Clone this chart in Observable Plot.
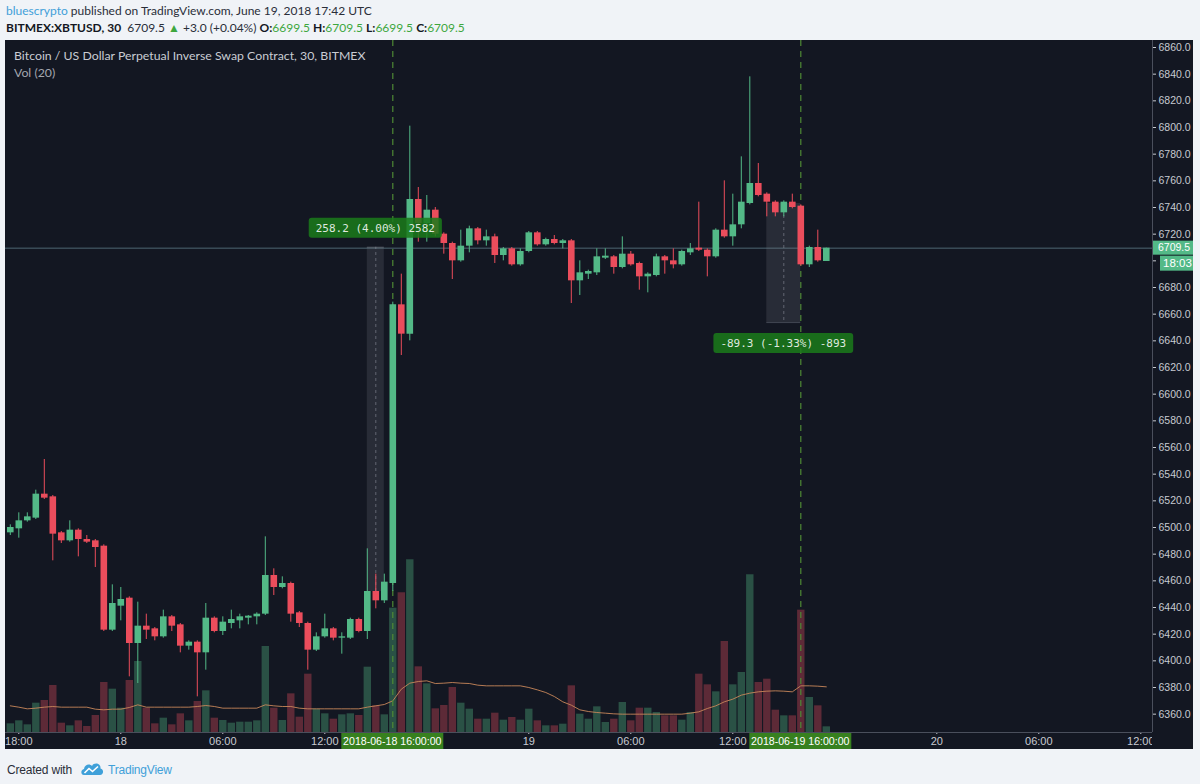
<!DOCTYPE html>
<html>
<head>
<meta charset="utf-8">
<script src="https://cdn.jsdelivr.net/npm/d3@7"></script>
<script src="https://cdn.jsdelivr.net/npm/@observablehq/plot@0.6"></script>
<style>
  html, body { margin: 0; padding: 0; }
  body { width: 1200px; height: 784px; overflow: hidden; position: relative; background: #f0f3f7; font-family: Lato, "Open Sans", sans-serif; }
  .hdr { position: absolute; left: 6px; font-size: 12px; color: #2a2e39; white-space: nowrap; }
  #h1 { top: 3px; }
  #h2 { top: 20px; }
  #h1 .user { color: #3fa0d9; }
  #h2 b { font-weight: 700; color: #131722; }
  #h2 .g { color: #3ea73e; }
  #panel { position: absolute; left: 5px; top: 40px; width: 1188px; height: 709px; background: #131722; overflow: hidden; }
  #panel > div.layer { position: absolute; left: 0; top: 0; }
  #ptitle { position: absolute; left: 9px; top: 8px; font-size: 12.3px; color: #c9ccd3; white-space: nowrap; }
  #pvol { position: absolute; left: 9px; top: 25px; font-size: 12.3px; color: #a3a6af; white-space: nowrap; }
  #foot { position: absolute; left: 7px; top: 760px; font-size: 12px; letter-spacing: -0.2px; color: #2a2e39; white-space: nowrap; font-family: "Liberation Sans Narrow", "Liberation Sans", sans-serif; }
  #foot .tv { color: #3fa0d9; }
  #foot svg { vertical-align: -4px; margin: 0 4px 0 8px; }
</style>
</head>
<body>
<div id="h1" class="hdr"><span class="user">bluescrypto</span> published on TradingView.com, June 19, 2018 17:42 UTC</div>
<div id="h2" class="hdr"><b>BITMEX:XBTUSD, 30</b>&nbsp; 6709.5 <span class="g">&#9650;</span> +3.0 (+0.04%) <b>O:</b><span class="g">6699.5</span> <b>H:</b><span class="g">6709.5</span> <b>L:</b><span class="g">6699.5</span> <b>C:</b><span class="g">6709.5</span></div>
<div id="panel">
  <div id="volLayer" class="layer"></div>
  <div id="priceLayer" class="layer"></div>
  <div id="ptitle">Bitcoin / US Dollar Perpetual Inverse Swap Contract, 30, BITMEX</div>
  <div id="pvol">Vol (20)</div>
</div>
<div id="foot">Created with<svg width="24" height="18" viewBox="0 0 24 18"><path d="M4 15 C0.5 15 0.5 9.5 4 9 C4.5 4.5 9.5 3 12 6 C14 2 21 3 20.5 8.5 C24 9 24 15 20 15 Z" fill="#3fa0d9"/><path d="M4.5 13 L9 8.5 L12.5 11.5 L18 6.5" stroke="#ffffff" stroke-width="1.6" fill="none"/></svg><span class="tv">TradingView</span></div>

<script>
// ---------- DATA (30-minute candles, BITMEX XBTUSD) ----------
const firstCandle = "2018-06-17T17:30:00Z";
const open = [
  6496, 6499, 6505, 6507, 6525, 6523, 6496, 6490, 6498, 6491,
  6490, 6486, 6423, 6441, 6447, 6413, 6426, 6424, 6418, 6433,
  6427, 6411, 6414, 6406, 6432, 6422, 6428, 6430, 6432, 6433,
  6435, 6464, 6455, 6458, 6436, 6428, 6408, 6418, 6424, 6417,
  6417, 6431, 6422, 6452, 6445, 6458, 6667, 6645, 6746, 6728,
  6738, 6720, 6713, 6700, 6711, 6724, 6715, 6718, 6704, 6709,
  6697, 6707, 6721, 6712, 6716, 6713, 6715, 6685, 6690, 6691,
  6702, 6703, 6695, 6705, 6698, 6688, 6689, 6703, 6700, 6697,
  6706, 6709.5, 6708, 6703, 6723, 6718, 6727, 6743, 6758, 6750,
  6744, 6736, 6744, 6741, 6697, 6710, 6699.5
];
const high = [
  6502, 6511, 6511, 6528, 6551, 6524, 6497, 6505, 6499, 6494,
  6491, 6487, 6457, 6455, 6448, 6444, 6435, 6425, 6438, 6434,
  6428, 6415, 6415, 6443, 6433, 6433, 6438, 6435, 6434, 6436,
  6493, 6469, 6463, 6459, 6437, 6429, 6421, 6435, 6425, 6421,
  6432, 6432, 6484, 6465, 6465, 6669, 6690, 6801, 6755, 6749,
  6740, 6721, 6714, 6723, 6726, 6725, 6723, 6720, 6710, 6710,
  6709, 6722, 6722, 6717, 6719, 6716, 6716, 6700, 6693, 6709,
  6709, 6704, 6718, 6707, 6699, 6691, 6705, 6704, 6709, 6708,
  6713, 6744, 6709, 6724, 6760, 6750, 6778, 6838, 6773, 6751,
  6745, 6745, 6750, 6742, 6711, 6723, 6709.5
];
const low = [
  6494, 6492, 6504, 6506, 6521, 6475, 6488, 6489, 6478, 6488,
  6470, 6422, 6422, 6430, 6388, 6383, 6416, 6415, 6417, 6422,
  6406, 6408, 6373, 6393, 6421, 6419, 6424, 6424, 6427, 6427,
  6434, 6449, 6454, 6429, 6425, 6393, 6407, 6417, 6415, 6405,
  6416, 6421, 6416, 6439, 6443, 6452, 6629, 6640, 6714, 6714,
  6718, 6705, 6686, 6699, 6706, 6712, 6711, 6698, 6700, 6696,
  6696, 6706, 6711, 6711, 6712, 6709, 6668, 6674, 6686, 6689,
  6701, 6690, 6694, 6696, 6678, 6676, 6688, 6690, 6694, 6696,
  6704, 6707, 6688, 6702, 6717, 6711, 6724, 6742, 6748, 6733,
  6733, 6733, 6739, 6696, 6695, 6699, 6699.5
];
const close = [
  6500, 6505, 6508, 6525, 6522, 6495, 6490, 6498, 6491, 6489,
  6485, 6423, 6443, 6446, 6413, 6426, 6423, 6418, 6433, 6426,
  6411, 6414, 6406, 6432, 6422, 6429, 6431, 6433, 6433.5, 6435,
  6464, 6455, 6458, 6435, 6428, 6408, 6418, 6424, 6417, 6418,
  6431, 6422, 6452, 6445, 6459, 6667, 6645, 6746, 6728, 6738,
  6720, 6713, 6700, 6711, 6724, 6715, 6718, 6704, 6709, 6697,
  6707, 6721, 6712, 6716, 6713, 6715, 6685, 6691, 6692, 6703,
  6703.5, 6695, 6705, 6697, 6688, 6690, 6703, 6700, 6697, 6707,
  6709, 6708, 6703, 6723, 6718, 6727, 6744, 6758, 6749, 6744,
  6736, 6744, 6740, 6697, 6710, 6700, 6709.5
];
// volume (relative units)
const volume = [
  26, 35, 23, 88, 96, 141, 28, 20, 35, 18,
  51, 150, 130, 73, 156, 213, 73, 26, 43, 23,
  56, 35, 93, 125, 43, 36, 28, 31, 31, 35,
  258, 73, 36, 116, 46, 175, 70, 56, 40, 53,
  56, 51, 196, 80, 53, 373, 419, 518, 197, 146,
  71, 81, 135, 88, 70, 40, 40, 58, 37, 45,
  37, 70, 35, 20, 20, 25, 140, 55, 40, 77,
  30, 40, 90, 35, 73, 73, 60, 50, 50, 37,
  60, 175, 143, 122, 273, 143, 180, 473, 150, 160,
  67, 50, 50, 367, 105, 80, 17
];
// Vol (20) moving-average line
const volMA20 = [
  80, 76, 71, 73, 76, 78, 76, 76, 76, 76,
  70, 68, 70, 70, 75, 83, 76, 76, 76, 76,
  76, 76, 78, 81, 78, 73, 73, 73, 73, 73,
  83, 80, 78, 78, 73, 71, 71, 71, 71, 71,
  71, 71, 76, 80, 84, 95, 130, 148, 153, 155,
  147, 148, 150, 148, 147, 142, 140, 140, 140, 140,
  140, 135, 128, 120, 108, 92, 82, 68, 63, 60,
  58, 56, 55, 55, 55, 55, 55, 55, 55, 55,
  58, 62, 72, 80, 92, 100, 112, 118, 122, 124,
  125, 124, 122, 140, 140, 139, 137
];
// price axis ticks (6700.0 sits under the countdown badge)
const priceTicks = d3.range(6360, 6861, 20);
const hiddenPriceLabel = 6700;
// time axis ticks (18:00 on the 18th and 19th sit under the date badges)
const timeTicks = ["2018-06-17T18:00:00Z","2018-06-18T00:00:00Z","2018-06-18T06:00:00Z","2018-06-18T12:00:00Z","2018-06-19T00:00:00Z","2018-06-19T06:00:00Z","2018-06-19T12:00:00Z","2018-06-20T00:00:00Z","2018-06-20T06:00:00Z","2018-06-20T12:00:00Z"].map(s => new Date(s));
// highlighted vertical markers (dashed lines + date badges)
const markerTimes = ["2018-06-18T16:00:00Z", "2018-06-19T16:00:00Z"].map(s => new Date(s));
// price-range measurement tools
const measureStart = ["2018-06-18T14:30:00Z", "2018-06-19T14:00:00Z"];
const measureEnd   = ["2018-06-18T15:30:00Z", "2018-06-19T16:00:00Z"];
const measureFrom  = [6452.0, 6743.0];
const measureTo    = [6710.2, 6653.7];
const measureText  = ["258.2 (4.00%) 2582", "-89.3 (-1.33%) -893"];
const countdown = "18:03";

// ---------- BUILD ----------
const t0 = new Date(firstCandle);
const candles = open.map((o, k) => ({
  time: d3.utcMinute.offset(t0, 30 * k),
  open: o, high: high[k], low: low[k], close: close[k],
  volume: volume[k], ma: volMA20[k]
}));
const last = candles[candles.length - 1];
const measures = measureStart.map((s, k) => ({
  t1: new Date(s), t2: new Date(measureEnd[k]),
  mid: new Date((+new Date(s) + +new Date(measureEnd[k])) / 2),
  p1: measureFrom[k], p2: measureTo[k], text: measureText[k]
}));

const GREEN = "#53b987", RED = "#eb4d5c";
const VGREEN = "#2a5145", VRED = "#5d2a37";
const BG = "#131722";
const AXIS_TXT = "#c7cad1";
const AXIS_LINE = "#4a4f5c";
const FONT = "'Liberation Sans', Arial, sans-serif";

const W = 1188, H = 709;
const common = {
  width: W, height: H,
  marginLeft: 0, marginRight: 41, marginTop: 0, marginBottom: 17,
  style: { background: "transparent", fontFamily: FONT, overflow: "visible" },
  x: { type: "utc", domain: [new Date("2018-06-17T17:13:03Z"), new Date("2018-06-20T12:41:18Z")], label: null }
};

// Volume layer
const volPlot = Plot.plot({
  ...common,
  x: { ...common.x, axis: null },
  y: { domain: [0, 600], range: [692, 492], axis: null },
  marks: [
    Plot.ruleX(candles, { x: "time", y1: 0, y2: "volume", stroke: d => d.close >= d.open ? VGREEN : VRED, strokeWidth: 7.4 }),
    Plot.line(candles, { x: "time", y: "ma", stroke: "#c8865a", strokeWidth: 1, strokeOpacity: 0.9 })
  ]
});
document.getElementById("volLayer").appendChild(volPlot);

const fmtTime = d => d.getUTCHours() === 0 ? String(d.getUTCDate()) : d3.utcFormat("%H:%M")(d);
const fmtFull = d3.utcFormat("%Y-%m-%d %H:%M:%S");

const pricePlot = Plot.plot({
  ...common,
  y: { domain: [6346.25, 6865.25], label: null },
  marks: [
    // current price line
    Plot.ruleY([last], { y: "close", stroke: "#4e6672", strokeWidth: 1 }),
    // dashed vertical markers
    Plot.ruleX(markerTimes, { stroke: "#4f8a35", strokeDasharray: "6,5", strokeWidth: 1.2 }),
    // measurement shaded zones
    Plot.rect(measures, { x1: "t1", x2: "t2", y1: "p1", y2: "p2", fill: "#787b86", fillOpacity: 0.22 }),
    Plot.ruleX(measures, { x: "mid", y1: "p1", y2: "p2", stroke: "#8a8e99", strokeOpacity: 0.6, strokeDasharray: "3,3" }),
    Plot.ruleY(measures, { x1: "t1", x2: "t2", y: "p2", stroke: "#8a8e99", strokeOpacity: 0.4 }),
    // candle wicks
    Plot.ruleX(candles, { x: "time", y1: "low", y2: "high", stroke: d => d.close >= d.open ? GREEN : RED, strokeWidth: 1 }),
    // candle bodies
    Plot.ruleX(candles, { x: "time", y1: "open", y2: "close", stroke: d => d.close >= d.open ? GREEN : RED, strokeWidth: 6.6 }),
    // measurement labels
    (index, scales) => {
      const g = d3.create("svg:g");
      measures.forEach(m => {
        const cx = scales.x(m.mid);
        const up = m.p2 > m.p1;
        const cy = up ? scales.y(m.p2) - 19 : scales.y(m.p2) + 21;
        const w = m.text.length * 6.62 + 14, h = 20;
        g.append("rect").attr("x", cx - w / 2).attr("y", cy - h / 2).attr("width", w).attr("height", h)
          .attr("rx", 3).attr("fill", "#1b7a1b").attr("fill-opacity", 0.86);
        g.append("text").attr("x", cx).attr("y", cy).attr("dy", "0.35em").attr("text-anchor", "middle")
          .attr("font-family", "'DejaVu Sans Mono', monospace").attr("font-size", 11)
          .attr("fill", "#dfe8df").text(m.text);
      });
      return g.node();
    },
    // axes
    Plot.axisY(priceTicks, { anchor: "right", tickSize: 3, tickPadding: 3, fontSize: 10.5, color: AXIS_TXT, tickFormat: d => d === hiddenPriceLabel ? "" : d.toFixed(1), label: null }),
    Plot.axisX(timeTicks, { tickSize: 2, tickPadding: 3, fontSize: 11, color: AXIS_TXT, tickFormat: fmtTime, label: null }),
    // axis lines + mask under price column
    (index, scales, values, dims) => {
      const g = d3.create("svg:g");
      const xr = dims.width - dims.marginRight, yb = dims.height - dims.marginBottom;
      g.append("rect").attr("x", xr).attr("y", yb).attr("width", dims.marginRight).attr("height", dims.marginBottom).attr("fill", BG);
      g.append("line").attr("x1", xr + 0.5).attr("x2", xr + 0.5).attr("y1", 0).attr("y2", yb).attr("stroke", AXIS_LINE);
      g.append("line").attr("x1", 0).attr("x2", xr).attr("y1", yb + 0.5).attr("y2", yb + 0.5).attr("stroke", AXIS_LINE);
      return g.node();
    },
    // date badges on the time axis
    (index, scales, values, dims) => {
      const g = d3.create("svg:g");
      const yb = dims.height - dims.marginBottom;
      markerTimes.forEach(t => {
        const cx = scales.x(t);
        g.append("rect").attr("x", cx - 51).attr("y", yb + 1).attr("width", 102).attr("height", dims.marginBottom - 1).attr("fill", "#37801f");
        g.append("text").attr("x", cx).attr("y", yb + 1 + (dims.marginBottom - 1) / 2).attr("dy", "0.35em")
          .attr("text-anchor", "middle").attr("font-size", 10.6).attr("fill", "#ffffff")
          .attr("font-family", "'Liberation Sans Narrow', 'Liberation Sans', Arial, sans-serif").text(fmtFull(t));
      });
      return g.node();
    },
    // last price + countdown badges
    (index, scales, values, dims) => {
      const g = d3.create("svg:g");
      const xr = dims.width - dims.marginRight;
      const cy = scales.y(last.close);
      g.append("rect").attr("x", xr + 1).attr("y", cy - 7).attr("width", dims.marginRight - 1).attr("height", 14).attr("fill", GREEN);
      g.append("text").attr("x", xr + 6).attr("y", cy).attr("dy", "0.35em").attr("text-anchor", "start")
        .attr("font-size", 10.5).attr("fill", "#ffffff").text(last.close.toFixed(1));
      g.append("rect").attr("x", xr + 8).attr("y", cy + 8).attr("width", dims.marginRight - 8).attr("height", 15).attr("fill", GREEN);
      g.append("text").attr("x", xr + 11).attr("y", cy + 15.5).attr("dy", "0.35em").attr("text-anchor", "start")
        .attr("font-size", 11.5).attr("fill", "#ffffff").text(countdown);
      return g.node();
    }
  ]
});
document.getElementById("priceLayer").appendChild(pricePlot);
</script>
</body>
</html>
